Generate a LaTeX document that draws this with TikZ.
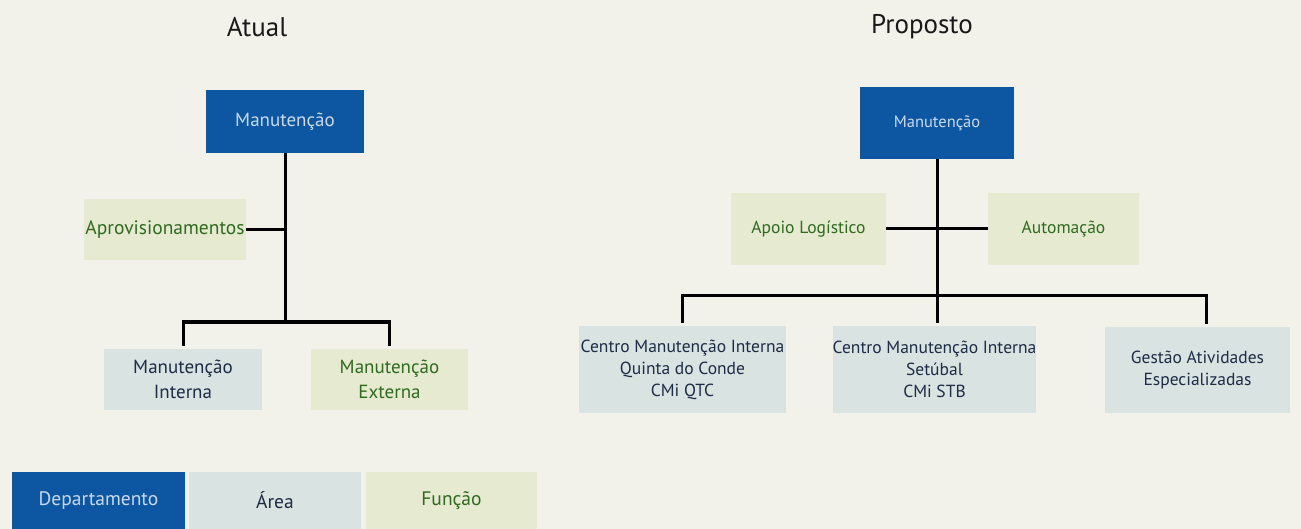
\documentclass[tikz,border=0pt]{standalone}
\usepackage{fontspec}
\setmainfont{PT Sans}
\usepackage{tikz}
\usetikzlibrary{positioning}

\definecolor{paper}{HTML}{F3F2EA}
\definecolor{deptblue}{HTML}{0D57A2}
\definecolor{deptfont}{HTML}{C9D9EE}
\definecolor{areablue}{HTML}{D9E3E2}
\definecolor{areafont}{HTML}{1D2B45}
\definecolor{funcgreen}{HTML}{E5EAD0}
\definecolor{funcfont}{HTML}{2F6A1F}

\tikzset{
  dept/.style = {fill = deptblue, text = deptfont, inner sep = 0, align = center},
  area/.style = {fill = areablue, text = areafont, inner sep = 0, align = center},
  func/.style = {fill = funcgreen, text = funcfont, inner sep = 0, align = center},
  link/.style = {draw = black, line width = 3pt},
  ttl/.style = {font = \fontsize{27}{30}\selectfont, text = black!90}
}

\begin{document}
\begin{tikzpicture}[x = 1pt, y = -1pt]
\fill[paper] (0,0) rectangle (1301,529);

% Atual
\node[ttl] (titA) at (257,27) {Atual};
\node[dept, minimum width = 158pt, minimum height = 63pt, font = \fontsize{19}{22}\selectfont] (depA) at (285,121.5) {Manutenção};
\node[func, minimum width = 162pt, minimum height = 61pt, font = \fontsize{19.5}{22}\selectfont] (aprA) at (165,229.5) {Aprovisionamentos};
\node[area, minimum width = 158pt, minimum height = 61pt, font = \fontsize{19}{25}\selectfont] (intA) at (183,379.5) {Manutenção\\Interna};
\node[func, minimum width = 157pt, minimum height = 61pt, font = \fontsize{19}{25}\selectfont] (extA) at (389.5,379.5) {Manutenção\\Externa};
\coordinate (barA) at (285,322);
\draw[link] (depA.south) -- (barA);
\draw[link] (aprA.east) -- (aprA.east -| depA.south);
\draw[link, shorten <= 3pt, shorten >= 3pt] (intA.north) |- (barA) -| (extA.north);

% Proposto
\node[ttl] (titB) at (922,27) {Proposto};
\node[dept, minimum width = 154pt, minimum height = 72pt, font = \fontsize{16.5}{20}\selectfont] (depB) at (937,123) {Manutenção};
\node[func, minimum width = 155pt, minimum height = 72pt, font = \fontsize{17.5}{20}\selectfont] (apoB) at (808.5,229) {Apoio Logístico};
\node[func, minimum width = 151pt, minimum height = 72pt, font = \fontsize{17.5}{20}\selectfont] (autB) at (1063.5,229) {Automação};
\node[area, minimum width = 207pt, minimum height = 87pt, font = \fontsize{17.5}{22}\selectfont] (qtcB) at (682.5,369.5) {Centro Manutenção Interna\\Quinta do Conde\\CMi QTC};
\node[area, minimum width = 203pt, minimum height = 87pt, font = \fontsize{17.5}{22}\selectfont] (stbB) at (934.5,369.5) {Centro Manutenção Interna\\Setúbal\\CMi STB};
\node[area, minimum width = 185pt, minimum height = 86pt, font = \fontsize{17.5}{22}\selectfont] (gesB) at (1197.5,370) {Gestão Atividades\\Especializadas};
\coordinate (barB) at (937,296);
\draw[link, shorten >= 3pt] (depB.south) -- (depB.south |- stbB.north);
\draw[link] (apoB.east) -- (autB.west);
\draw[link, shorten <= 3pt, shorten >= 3pt] (qtcB.north) |- (barB) -| ([xshift = 9pt]gesB.north);

% legenda
\node[dept, minimum width = 173pt, minimum height = 57pt, font = \fontsize{19.5}{22}\selectfont] (depL) at (98.5,500.5) {Departamento};
\node[area, minimum width = 172pt, minimum height = 57pt, font = \fontsize{19.5}{22}\selectfont] (areaL) at (275,500.5) {Área};
\node[func, minimum width = 171pt, minimum height = 57pt, font = \fontsize{19.5}{22}\selectfont] (funL) at (451.5,500.5) {Função};
\end{tikzpicture}
\end{document}
